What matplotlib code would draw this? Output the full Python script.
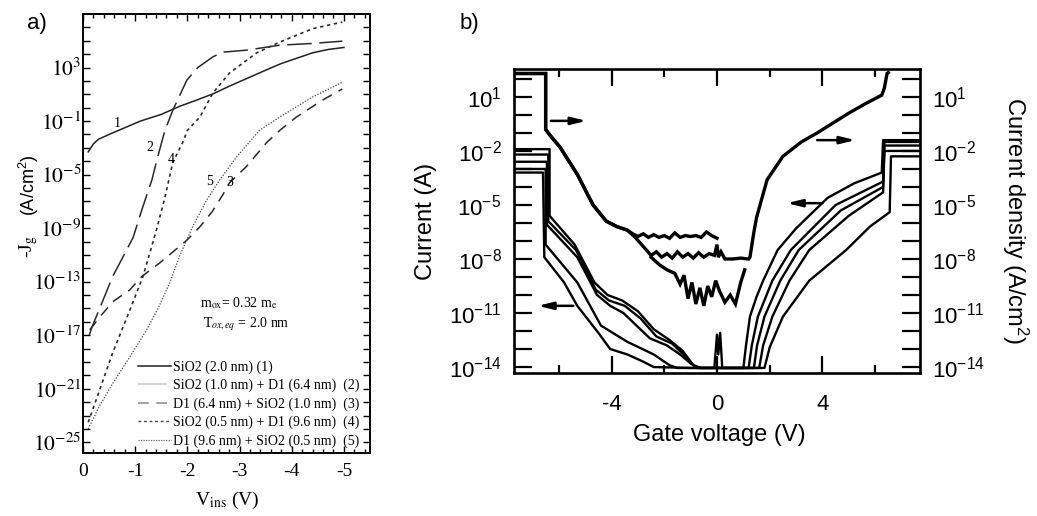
import numpy as np
import matplotlib
matplotlib.use('Agg')
import matplotlib.pyplot as plt
from matplotlib.lines import Line2D
from matplotlib.ticker import MultipleLocator, NullFormatter

plt.rcParams['font.family'] = ['Liberation Sans', 'DejaVu Sans']
plt.rcParams['mathtext.fontset'] = 'custom'
plt.rcParams['mathtext.rm'] = 'Liberation Sans'
plt.rcParams['mathtext.it'] = 'Liberation Sans:italic'
plt.rcParams['mathtext.bf'] = 'Liberation Sans:bold'

SERIF = 'Liberation Serif'

# ---------------------------------------------------------------- panel a data
# gate voltage (V) and log10 of -Jg (A/cm2)
c1_v = [-0.1, -0.2, -0.3, -0.5, -0.8, -1.1, -1.5, -1.85, -2.2, -2.5, -2.8, -3.15, -3.5, -3.8, -4.1, -4.4, -4.7, -5.0]
c1_j = [-3.3, -2.7, -2.35, -2.0, -1.5, -1.0, -0.5, 0.1, 0.6, 1.05, 1.6, 2.2, 2.8, 3.3, 3.7, 4.1, 4.35, 4.5]

c2_v = [-0.12, -0.17, -0.33, -0.57, -0.8, -0.96, -1.13, -1.32, -1.43, -1.57, -1.72, -1.99, -2.2, -2.49, -2.68, -3.14, -3.77, -4.4, -4.97]
c2_j = [-17.0, -16.4, -14.9, -12.6, -10.9, -9.7, -7.6, -5.4, -3.7, -1.7, -0.2, 2.06, 3.0, 3.8, 4.15, 4.3, 4.67, 4.8, 4.97]

c3_v = [-0.13, -0.33, -0.57, -0.9, -1.13, -1.47, -1.7, -1.99, -2.24, -2.47, -2.68, -2.81, -3.13, -3.52, -3.77, -4.09, -4.59, -4.97]
c3_j = [-16.6, -15.6, -14.5, -13.6, -12.6, -11.6, -10.85, -9.9, -8.9, -7.8, -6.5, -5.6, -4.4, -2.6, -1.7, -0.7, 0.57, 1.4]

c4_v = [-0.1, -0.3, -0.57, -0.9, -1.15, -1.41, -1.57, -1.72, -1.91, -2.0, -2.24, -2.49, -2.81, -3.33, -3.77, -4.4, -4.97]
c4_j = [-23.5, -21.3, -18.3, -15.1, -12.6, -9.1, -6.7, -4.1, -2.6, -1.7, -0.7, 1.1, 2.6, 4.1, 4.9, 5.9, 6.4]

c5_v = [-0.1, -0.3, -0.57, -0.9, -1.22, -1.45, -1.66, -1.85, -2.1, -2.37, -2.62, -2.94, -3.38, -3.77, -4.4, -4.97]
c5_j = [-24.0, -22.4, -20.6, -18.6, -16.6, -14.9, -13.1, -11.1, -8.9, -6.9, -5.4, -3.7, -1.7, -0.7, 0.8, 1.9]

legend_a = ['SiO2 (2.0 nm) (1)',
            'SiO2 (1.0 nm) + D1 (6.4 nm)  (2)',
            'D1 (6.4 nm) + SiO2 (1.0 nm)  (3)',
            'SiO2 (0.5 nm) + D1 (9.6 nm)  (4)',
            'D1 (9.6 nm) + SiO2 (0.5 nm)  (5)']
curve_tags = ['1', '2', '3', '4', '5']
tag_v = [-0.65, -1.28, -2.81, -1.70, -2.43]
tag_j = [-1.2, -3.0, -5.6, -3.9, -5.55]

a_xticks = [0, -1, -2, -3, -4, -5]
a_ylab = [3, -1, -5, -9, -13, -17, -21, -25]

# ---------------------------------------------------------------- panel b data
# gate voltage (V) and log10 of current / current density
jl_v = [-7.7, -6.5, -6.5, -6.35, -5.95, -5.3, -4.7, -4.2, -3.8, -3.4]
jl_j = [2.3, 2.3, -0.8, -1.1, -1.8, -3.3, -5.0, -5.9, -6.2, -6.4]

ja_v = [-3.2, -3.0, -2.8, -2.6, -2.4, -2.2, -2.0, -1.8, -1.6, -1.4, -1.2, -1.0, -0.8, -0.6, -0.4, -0.2, 0.0]
ja_j = [-6.6, -6.75, -6.6, -6.8, -6.65, -6.8, -6.7, -6.85, -6.55, -6.8, -6.7, -6.75, -6.7, -6.8, -6.5, -6.7, -6.85]

jb_v = [-3.1, -2.8, -2.5, -2.3, -2.1, -1.9, -1.7, -1.5, -1.3, -1.1, -0.9, -0.7, -0.5, -0.3, -0.1, 0.0, 0.05, 0.15, 0.3, 0.6, 0.9, 1.2]
jb_j = [-6.8, -7.3, -7.8, -7.6, -7.9, -7.7, -7.95, -7.6, -7.9, -7.7, -7.95, -7.65, -7.9, -7.7, -7.8, -7.2, -7.9, -7.6, -8.0, -8.0, -7.95, -8.0]

jc_v = [-2.5, -2.2, -1.9, -1.6, -1.4, -1.25, -1.1, -0.95, -0.8, -0.65, -0.5, -0.35, -0.2, -0.05, 0.1, 0.3, 0.5, 0.7, 0.9, 1.05]
jc_j = [-7.9, -8.3, -8.6, -8.8, -9.4, -8.9, -10.2, -9.3, -10.5, -9.6, -10.6, -9.5, -10.1, -9.2, -9.8, -10.4, -10.0, -10.5, -9.3, -8.6]

jr_v = [1.25, 1.4, 1.5, 1.9, 2.5, 3.2, 3.8, 4.4, 5.0, 5.6, 6.25, 6.35, 6.45, 6.5]
jr_j = [-7.9, -6.5, -5.7, -3.6, -2.3, -1.5, -1.0, -0.45, 0.1, 0.6, 1.1, 1.5, 2.3, 2.35]

i1_v = [-7.7, -6.6, -6.55, -5.8, -5.3, -4.5, -4.05, -3.4, -2.8, -2.4, -1.0, 1.8, 2.0, 2.5, 3.5, 4.9, 5.8, 6.55, 6.6, 7.7]
i1_i = [-3.2, -3.2, -7.9, -9.3, -10.6, -12.1, -13.0, -13.3, -13.7, -14.0, -14.05, -14.05, -12.9, -11.2, -9.2, -7.5, -6.2, -5.4, -2.3, -2.3]

i2_v = [-7.7, -6.5, -6.5, -5.3, -4.4, -3.4, -2.4, -1.8, -1.5, 1.6, 1.75, 2.1, 2.75, 3.5, 5.0, 6.3, 6.35, 7.7]
i2_i = [-3.0, -3.0, -7.2, -9.3, -11.7, -12.6, -13.3, -13.9, -14.05, -14.05, -12.8, -11.2, -9.2, -7.5, -5.6, -4.3, -2.0, -2.0]

i3_v = [-7.7, -6.45, -6.45, -5.3, -4.55, -4.05, -3.55, -3.05, -2.55, -1.9, -1.4, -1.0, -0.7, -0.1, 0.0, 0.05, 0.12, 0.2, 1.4, 1.52, 1.8, 2.4, 3.1, 4.7, 6.3, 6.35, 7.7]
i3_i = [-2.6, -2.6, -6.1, -7.9, -10.0, -10.6, -11.0, -11.7, -12.4, -12.8, -13.3, -13.8, -14.05, -14.05, -12.2, -13.3, -12.1, -14.05, -14.05, -12.8, -11.2, -9.2, -7.5, -5.3, -4.0, -1.7, -1.7]

i4_v = [-7.7, -6.4, -6.4, -5.35, -4.6, -4.1, -3.5, -2.9, -2.3, -1.7, -1.2, -0.8, 1.2, 1.32, 1.55, 2.1, 2.8, 4.5, 6.3, 6.35, 7.7]
i4_i = [-2.2, -2.2, -5.9, -7.5, -9.7, -10.3, -10.6, -11.3, -12.3, -12.7, -13.4, -14.05, -14.05, -12.8, -11.2, -9.2, -7.5, -5.0, -3.7, -1.5, -1.5]

i5_v = [-7.7, -6.35, -6.35, -5.4, -4.65, -4.15, -3.6, -3.0, -2.4, -1.8, -1.3, -0.9, -0.6, 1.0, 1.1, 1.25, 1.5, 1.75, 2.3, 3.0, 4.2, 5.2, 6.25, 6.3, 7.7]
i5_i = [-1.9, -1.9, -5.6, -7.2, -9.3, -10.0, -10.3, -10.9, -11.9, -12.5, -13.1, -13.9, -14.05, -14.05, -12.8, -11.2, -10.1, -9.2, -7.5, -6.3, -4.6, -3.8, -3.2, -1.4, -1.4]

# arrows: (tail V, head V, log level)
arrows_b = [(-6.3, -4.95, -0.33), (3.8, 5.25, -1.4), (4.0, 2.65, -4.9), (-5.45, -6.8, -10.6)]

b_xticks = [-4, 0, 4]
b_xminor = [-6, -2, 2, 6]
b_ylab = [1, -2, -5, -8, -11, -14]

# ---------------------------------------------------------------- figure
W, H = 1037, 516
fig = plt.figure(figsize=(W / 100, H / 100), dpi=100)


def px_axes(x0, y0, x1, y1):
    return fig.add_axes([x0 / W, 1 - y1 / H, (x1 - x0) / W, (y1 - y0) / H])


def sup(e):
    return r'$10^{%d}$' % e


# panel a ---------------------------------------------------------------------
axa = px_axes(83, 14, 370, 453)
styles_a = [dict(color='#222222', lw=1.1, ls='-'),
            dict(color='#2a2a2a', lw=1.1, dashes=(16, 5)),
            dict(color='#2a2a2a', lw=1.1, dashes=(7, 5)),
            dict(color='#2a2a2a', lw=1.2, dashes=(2, 2.2)),
            dict(color='#444444', lw=0.9, dashes=(1, 1.3))]
curves_a = [(c1_v, c1_j), (c2_v, c2_j), (c3_v, c3_j), (c4_v, c4_j), (c5_v, c5_j)]
for (v, j), st in zip(curves_a, styles_a):
    axa.plot(v, 10.0 ** np.array(j), **st)

for t, v, j in zip(curve_tags, tag_v, tag_j):
    axa.text(v, 10.0 ** j, t, fontfamily=SERIF, fontsize=10, ha='center', va='center')

axa.text(-2.25, 10.0 ** -14.6, r'm$_{\rm ox}$= 0.32 m$_{\rm e}$', fontfamily=SERIF,
         math_fontfamily='stix', fontsize=10, va='center')
axa.text(-2.3, 10.0 ** -16.2, r'T$_{ox,eq}$ = 2.0 nm', fontfamily=SERIF,
         math_fontfamily='stix', fontsize=10, va='center')

handles = [Line2D([], [], color='#222222', lw=1.1),
           Line2D([], [], color='#cfcfcf', lw=1.3, dashes=(16, 5)),
           Line2D([], [], color='#888888', lw=1.1, dashes=(7, 5)),
           Line2D([], [], color='#444444', lw=1.0, dashes=(2, 2)),
           Line2D([], [], color='#666666', lw=0.9, dashes=(1, 1))]
axa.legend(handles, legend_a, loc='lower right', bbox_to_anchor=(0.965, 0.012),
           frameon=False, prop=dict(family=SERIF, size=10), handlelength=2.4,
           handletextpad=0.15, labelspacing=0.36, borderpad=0, borderaxespad=0)

axa.set_yscale('log')
axa.set_yticks(10.0 ** np.array(a_ylab), labels=[sup(e) for e in a_ylab],
               fontsize=15.5, math_fontfamily='stix')
axa.set_yticks(10.0 ** np.array([e for e in range(-25, 7) if e not in a_ylab]), minor=True)
axa.yaxis.set_minor_formatter(NullFormatter())
axa.tick_params(axis='y', which='both', direction='in', length=5, width=1.0,
                left=True, right=True, pad=1)
axa.set_xticks(a_xticks, labels=[str(v) for v in a_xticks], fontfamily=SERIF, fontsize=14)
axa.xaxis.set_minor_locator(MultipleLocator(0.2))
axa.tick_params(axis='x', which='major', direction='in', length=5, width=1.0,
                top=True, bottom=True, pad=7)
axa.tick_params(axis='x', which='minor', direction='in', length=3, width=1.0,
                top=True, bottom=True)
axa.set_xlim(0, -5.5)
axa.set_ylim(10.0 ** -25.8, 10.0 ** 7)
for s in axa.spines.values():
    s.set_linewidth(1.4)

fig.text(227 / W, 1 - 500 / H, r'V$_{\rm ins}$ (V)', fontfamily=SERIF, math_fontfamily='stix',
         fontsize=14, ha='center', va='center')
fig.text(29 / W, 1 - 258 / H, r'-J$_{\rm g}$', fontfamily=SERIF, math_fontfamily='stix',
         fontsize=14, rotation=90, ha='center', va='bottom')
fig.text(29 / W, 1 - 216 / H, r'(A/cm$^2$)', fontsize=13, rotation=90, ha='center', va='bottom')
fig.text(27 / W, 1 - 23 / H, 'a)', fontsize=16, va='center')

# panel b ---------------------------------------------------------------------
axb = px_axes(514, 69, 920, 373)
for v, j in [(jl_v + ja_v, jl_j + ja_j), (jl_v + jb_v + jr_v, jl_j + jb_j + jr_j), (jc_v, jc_j)]:
    axb.plot(v, 10.0 ** np.array(j), color='black', lw=2.4, solid_joinstyle='miter')
for v, i in [(i1_v, i1_i), (i2_v, i2_i), (i3_v, i3_i), (i4_v, i4_i), (i5_v, i5_i)]:
    axb.plot(v, 10.0 ** np.array(i), color='black', lw=1.7)

for tail, head, lev in arrows_b:
    axb.annotate('', xy=(head, 10.0 ** lev), xytext=(tail, 10.0 ** lev),
                 arrowprops=dict(arrowstyle='-|>,head_length=0.9,head_width=0.22',
                                 color='black', lw=1.8, shrinkA=0, shrinkB=0))

axb.set_yscale('log')
axb.set_yticks(10.0 ** np.array(b_ylab), labels=[sup(e) for e in b_ylab])
axb.set_yticks(10.0 ** np.array([e for e in range(-14, 3) if e not in b_ylab]), minor=True)
axb.yaxis.set_minor_formatter(NullFormatter())
axb.tick_params(axis='y', which='both', direction='in', length=13, width=1.6,
                left=True, right=True, labelleft=True, labelright=True, labelsize=16, pad=9)
axb.set_xticks(b_xticks, labels=[str(v) for v in b_xticks])
axb.set_xticks(b_xminor, minor=True)
axb.tick_params(axis='x', which='major', direction='in', length=12, width=1.6,
                top=True, bottom=True, labelsize=16, pad=15)
axb.tick_params(axis='x', which='minor', direction='in', length=6, width=1.6,
                top=True, bottom=True)
axb.set_xlim(-7.7, 7.7)
axb.set_ylim(10.0 ** -14.33, 10.0 ** 2.55)
for s in axb.spines.values():
    s.set_linewidth(1.9)

fig.text(719 / W, 1 - 435 / H, 'Gate voltage (V)', fontsize=17, ha='center', va='center')
fig.text(426 / W, 1 - 221 / H, 'Current (A)', fontsize=17, rotation=90, ha='center', va='center')
fig.text(1015 / W, 1 - 221 / H, r'Current density (A/cm$^2$)', fontsize=17, rotation=-90,
         ha='center', va='center')
fig.text(460 / W, 1 - 23 / H, 'b)', fontsize=16, va='center')

fig.savefig('out.png', dpi=100)
